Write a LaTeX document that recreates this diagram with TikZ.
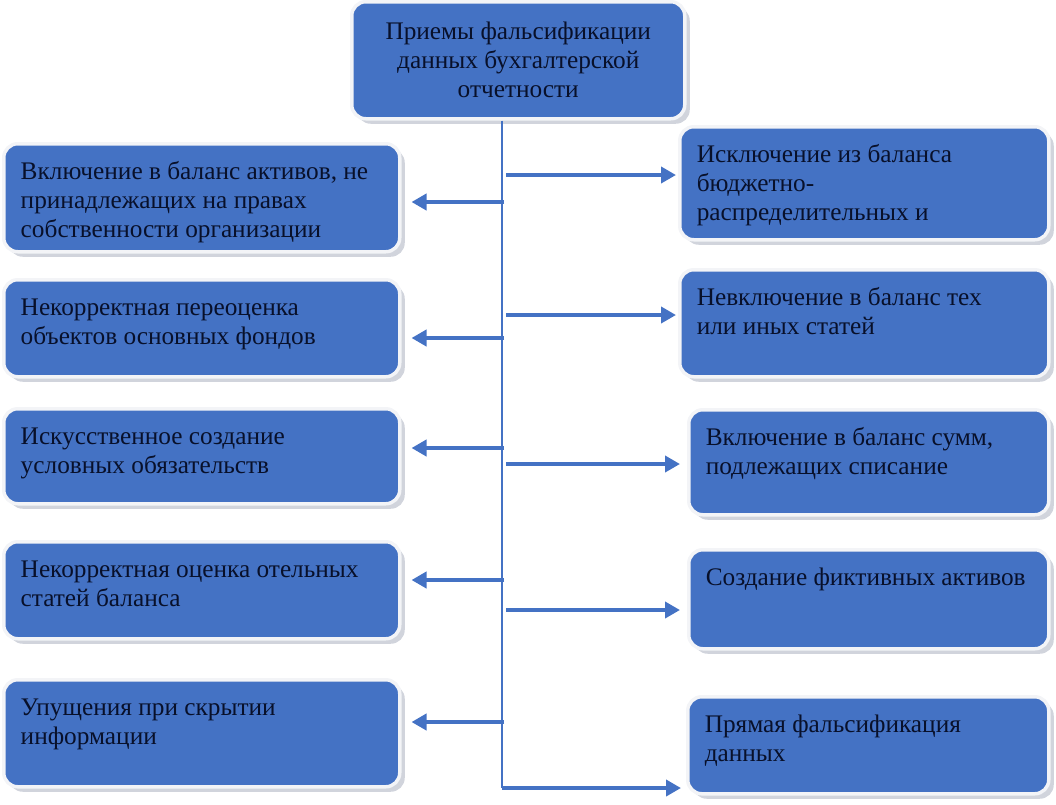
\documentclass[tikz,border=0pt]{standalone}
\usepackage{fontspec}
\setmainfont{Liberation Serif}
\usetikzlibrary{arrows.meta,shadows}
\definecolor{boxblue}{HTML}{4472C4}
\definecolor{rim}{HTML}{F3F4F7}
\definecolor{shade}{HTML}{A3AABA}
\definecolor{ink}{HTML}{08102A}
% text block at the top of a box: height, width, lines
\newcommand{\inbox}[3]{\parbox[c][#1pt][t]{#2pt}{\raggedright\leftskip=17pt\rule{0pt}{36pt}#3}}

\begin{document}
\begin{tikzpicture}[x=1pt,y=-1pt,
	box/.style={rectangle, rounded corners=14pt, fill=boxblue, draw=rim, line width=3.5pt, inner sep=0pt, anchor=north west, text=ink, font=\fontsize{25.3}{29}\selectfont, drop shadow={shadow xshift=5pt, shadow yshift=-5pt, fill=shade}},
	arrow/.style={draw=boxblue, line width=4.8pt, -{Triangle[length=15pt, width=16pt]}},
	trunk/.style={draw=boxblue, line width=2.5pt}]
	
	\useasboundingbox (0,0) rectangle (1056,804);
	
	%Nodes
	\node[box, align=center, minimum width=333pt, minimum height=117pt]	(top)	at (350,0)	{Приемы фальсификации\\данных бухгалтерской\\отчетности};
	
	\node[box]	(l1)	at (2,142)	{\inbox{108}{396}{Включение в баланс активов, не\\принадлежащих на правах\\собственности организации}};
	\node[box]	(l2)	at (2,278)	{\inbox{97}{396}{Некорректная переоценка\\объектов основных фондов}};
	\node[box]	(l3)	at (2,407)	{\inbox{95}{396}{Искусственное создание\\условных обязательств}};
	\node[box]	(l4)	at (2,540)	{\inbox{97}{396}{Некорректная оценка отельных\\статей баланса}};
	\node[box]	(l5)	at (2,678)	{\inbox{107}{396}{Упущения при скрытии\\информации}};
	
	\node[box]	(r1)	at (678,125)	{\inbox{113}{369}{Исключение из баланса\\бюджетно-\\распределительных и}};
	\node[box]	(r2)	at (678,268)	{\inbox{107}{369}{Невключение в баланс тех\\или иных статей}};
	\node[box]	(r3)	at (687,408)	{\inbox{105}{360}{Включение в баланс сумм,\\подлежащих списание}};
	\node[box]	(r4)	at (687,548)	{\inbox{99}{360}{Создание фиктивных активов}};
	\node[box]	(r5)	at (686,695)	{\inbox{97}{361}{Прямая фальсификация\\данных}};
	
	%Joints on the trunk
	\coordinate (end)	at (502,788);
	\coordinate (jl1)	at (504,202);
	\coordinate (jl2)	at (504,338);
	\coordinate (jl3)	at (504,448);
	\coordinate (jl4)	at (504,580);
	\coordinate (jl5)	at (504,722);
	\coordinate (jr1)	at (506,175);
	\coordinate (jr2)	at (506,315);
	\coordinate (jr3)	at (506,464);
	\coordinate (jr4)	at (506,610);
	\coordinate (jr5)	at (502,788);
	
	%Lines
	\draw[trunk] (top.south -| end) -- (end);
	\draw[arrow, shorten >=10pt] (jl1) -- (jl1 -| l1.east);
	\draw[arrow, shorten >=10pt] (jl2) -- (jl2 -| l2.east);
	\draw[arrow, shorten >=10pt] (jl3) -- (jl3 -| l3.east);
	\draw[arrow, shorten >=10pt] (jl4) -- (jl4 -| l4.east);
	\draw[arrow, shorten >=10pt] (jl5) -- (jl5 -| l5.east);
	\draw[arrow, shorten >=2pt] (jr1) -- (jr1 -| r1.west);
	\draw[arrow, shorten >=2pt] (jr2) -- (jr2 -| r2.west);
	\draw[arrow, shorten >=7pt] (jr3) -- (jr3 -| r3.west);
	\draw[arrow, shorten >=7pt] (jr4) -- (jr4 -| r4.west);
	\draw[arrow, shorten >=5pt] (jr5) -- (jr5 -| r5.west);
\end{tikzpicture}
\end{document}
